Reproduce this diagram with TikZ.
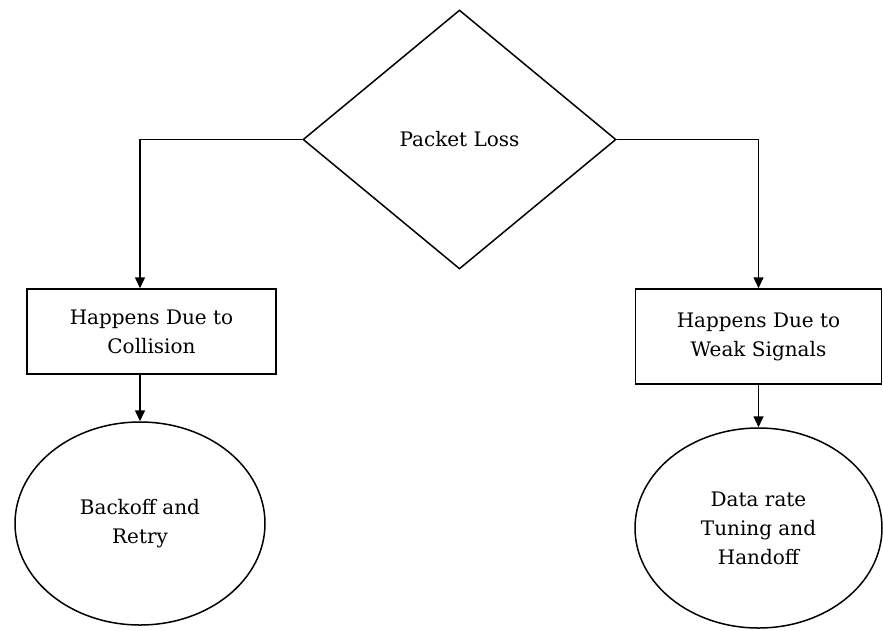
\documentclass[tikz,border=0pt]{standalone}
\usepackage{fontspec}
\setmainfont{DejaVu Serif}
\usetikzlibrary{shapes.geometric,arrows.meta}
\begin{document}
\begin{tikzpicture}[x=1pt,y=-1pt,
  line width=1.5pt,
  txt/.style={font=\fontsize{20}{29}\selectfont, align=center},
  decision/.style={txt, draw, diamond, minimum width=313pt, minimum height=259pt, inner sep=0pt},
  causebox/.style={txt, draw, rectangle, inner sep=0pt},
  remedy/.style={txt, draw, ellipse, inner sep=0pt},
  flow/.style={-{Triangle[length=11pt,width=10pt]}}
]
\useasboundingbox (0,0) rectangle (883,630);

\node[decision] (loss) at (459.5,139.5) {Packet Loss};

\node[causebox, minimum width=249pt, minimum height=85pt] (lbox) at (151.5,331.5)
  {Happens Due to\\Collision};
\node[causebox, minimum width=246pt, minimum height=95pt] (rbox) at (758.5,336.5)
  {Happens Due to\\Weak Signals};

\node[remedy, minimum width=250pt, minimum height=203pt] (lell) at (140,523.5)
  {Backoff and\\Retry};
\node[remedy, minimum width=247pt, minimum height=200pt] (rell) at (758.5,528)
  {Data rate\\Tuning and\\Handoff};

\draw[flow] (loss.west) -| (lbox.north -| lell.north);
\draw[flow] (loss.east) -| (rbox.north);
\draw[flow] (lbox.south -| lell.north) -- (lell.north);
\draw[flow] (rbox.south) -- (rell.north);
\end{tikzpicture}
\end{document}
